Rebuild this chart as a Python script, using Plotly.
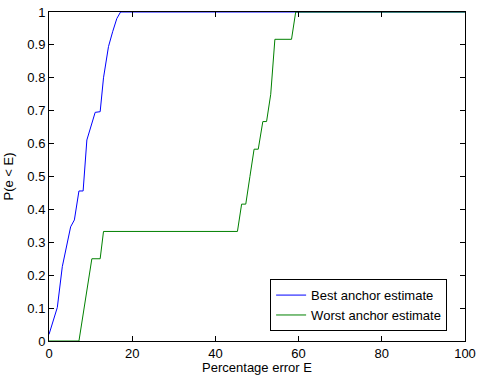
import plotly.graph_objects as go

best_x = [0, 2.0, 3.2, 5.2, 6.1, 7.2, 8.2, 9.1, 11.1, 12.3, 13.1, 14.3, 15.3, 16.3, 17.2, 100]
best_y = [0.02, 0.102, 0.226, 0.347, 0.368, 0.456, 0.456, 0.611, 0.695, 0.697, 0.80, 0.895, 0.94, 0.98, 1.0, 1.0]

worst_x = [0, 7.2, 10.3, 12.3, 13.1, 45.3, 46.3, 47.3, 48.3, 49.3, 50.3, 51.4, 52.3, 53.3, 54.3, 58.3, 59.3, 100]
worst_y = [0, 0, 0.25, 0.25, 0.333, 0.333, 0.416, 0.416, 0.5, 0.583, 0.583, 0.667, 0.667, 0.75, 0.917, 0.917, 1.0, 1.0]

x_ticks = [0, 20, 40, 60, 80, 100]
y_ticks = [0, 0.1, 0.2, 0.3, 0.4, 0.5, 0.6, 0.7, 0.8, 0.9, 1]
y_tick_labels = ["0", "0.1", "0.2", "0.3", "0.4", "0.5", "0.6", "0.7", "0.8", "0.9", "1"]

fig = go.Figure()
fig.add_trace(go.Scatter(x=best_x, y=best_y, mode="lines", name="Best anchor estimate",
                         line=dict(color="#0000FF", width=1)))
fig.add_trace(go.Scatter(x=worst_x, y=worst_y, mode="lines", name="Worst anchor estimate",
                         line=dict(color="#008000", width=1)))

axis_common = dict(showline=True, linecolor="black", linewidth=1, mirror="ticks",
                   ticks="inside", ticklen=5, tickcolor="black", showgrid=False,
                   zeroline=False, automargin=False, tickfont=dict(size=13, color="black"))

fig.update_layout(
    width=477, height=375,
    margin=dict(l=49, r=12, t=12, b=34, autoexpand=False),
    paper_bgcolor="white", plot_bgcolor="white",
    font=dict(family="Liberation Sans, Arial, sans-serif", size=13, color="black"),
    xaxis=dict(range=[0, 100], tickvals=x_ticks, title=dict(text="Percentage error E", standoff=0,
               font=dict(size=13)), **axis_common),
    yaxis=dict(range=[0, 1], tickvals=y_ticks, ticktext=y_tick_labels,
               title=dict(text="P(e < E)", standoff=10, font=dict(size=13)), **axis_common),
    legend=dict(x=0.957, y=0.03, xanchor="right", yanchor="bottom",
                bgcolor="white", bordercolor="black", borderwidth=1,
                font=dict(size=13), tracegroupgap=0, itemwidth=30),
    showlegend=True,
)

fig.write_html("out.html", config={"displayModeBar": False},
               post_script="document.body.style.margin='0';document.body.style.overflow='hidden';")
